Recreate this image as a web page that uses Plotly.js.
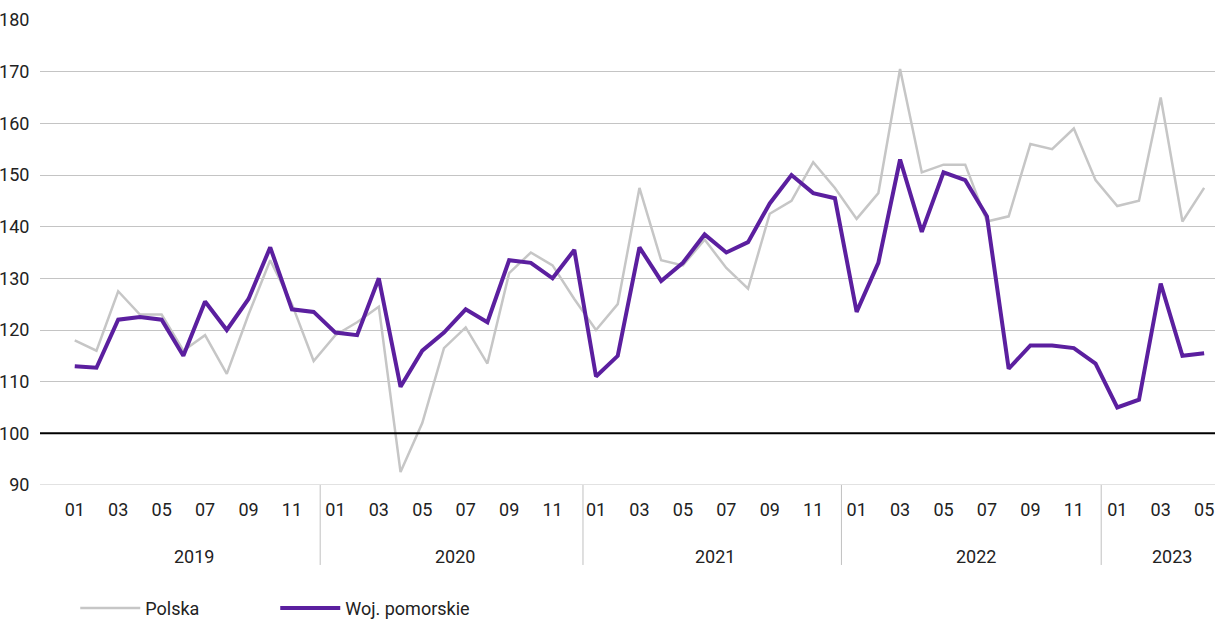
<!DOCTYPE html>
<html><head><meta charset="utf-8">
<script src="https://cdn.plot.ly/plotly-3.0.1.min.js"></script>
<style>body{margin:0;background:#fff}#chart{width:1217px;height:622px}</style>
</head><body><div id="chart"></div>
<script>
// monthly index, 2019-01 .. 2023-05
const polska = [
  118, 116, 127.5, 123, 123, 116, 119, 111.5, 123, 133.5, 125, 114,
  119, 121.5, 124.5, 92.5, 102, 116.5, 120.5, 113.5, 131, 135, 132.5, 126,
  120, 125, 147.5, 133.5, 132.5, 137.5, 132, 128, 142.5, 145, 152.5, 147.5,
  141.5, 146.5, 170.5, 150.5, 152, 152, 141, 142, 156, 155, 159, 149,
  144, 145, 165, 141, 147.5
];
const pomorskie = [
  113, 112.7, 122, 122.5, 122, 115, 125.5, 120, 126, 136, 124, 123.5,
  119.5, 119, 130, 109, 116, 119.5, 124, 121.5, 133.5, 133, 130, 135.5,
  111, 115, 136, 129.5, 133, 138.5, 135, 137, 144.5, 150, 146.5, 145.5,
  123.5, 133, 153, 139, 150.5, 149, 142, 112.5, 117, 117, 116.5, 113.5,
  105, 106.5, 129, 115, 115.5
];
const years = ['2019', '2020', '2021', '2022', '2023'];
const yearCenters = [5.5, 17.5, 29.5, 41.5, 50.5];
const yearDividers = [11.3, 23.4, 35.3, 47.26];

const idx = polska.map((_, i) => i);
const tickVals = idx.filter(i => i % 12 % 2 === 0);
const tickText = tickVals.map(i => String(i % 12 + 1).padStart(2, '0'));

const traces = [
  { x: idx, y: polska, name: 'Polska', type: 'scatter', mode: 'lines',
    line: { color: '#c6c6c6', width: 2.5 } },
  { x: idx, y: pomorskie, name: 'Woj. pomorskie', type: 'scatter', mode: 'lines',
    line: { color: '#5b1f9f', width: 4 } }
];

const shapes = [
  { type: 'line', xref: 'paper', x0: 0, x1: 1, yref: 'y', y0: 100, y1: 100,
    line: { color: '#000', width: 2 } },
  { type: 'line', xref: 'paper', x0: 0, x1: 1, yref: 'y', y0: 90, y1: 90,
    line: { color: '#c4c4c4', width: 1 } }
];
yearDividers.forEach(d => shapes.push({ type: 'line', xref: 'x', x0: d, x1: d,
  yref: 'paper', y0: 0, y1: -0.172, line: { color: '#c0c0c0', width: 1 } }));

const annotations = years.map((t, i) => ({ text: t, x: yearCenters[i], xref: 'x',
  y: -0.18, yref: 'paper', showarrow: false, font: { size: 18, color: '#222' } }));

const layout = {
  width: 1217, height: 622,
  paper_bgcolor: '#fff', plot_bgcolor: '#fff',
  font: { family: 'Roboto, sans-serif', size: 18, color: '#222' },
  margin: { l: 40, r: 2, t: 20, b: 137, autoexpand: false },
  xaxis: { range: [-1.6, 52.5], tickvals: tickVals, ticktext: tickText,
    showgrid: false, zeroline: false, showline: false, ticks: '',
    ticklabelstandoff: 12 },
  yaxis: { range: [90, 180], dtick: 10, gridcolor: '#c4c4c4', gridwidth: 1,
    zeroline: false, showline: false, ticks: 'outside', ticklen: 6, tickcolor: '#fff' },
  shapes: shapes, annotations: annotations,
  showlegend: true,
  legend: { orientation: 'h', x: 0.03, y: -0.265, yanchor: 'middle',
    font: { size: 18 }, entrywidth: 190, itemwidth: 60 }
};
layout.legend.entrywidth = 125;

Plotly.newPlot('chart', traces, layout, { displayModeBar: false });
</script></body></html>
